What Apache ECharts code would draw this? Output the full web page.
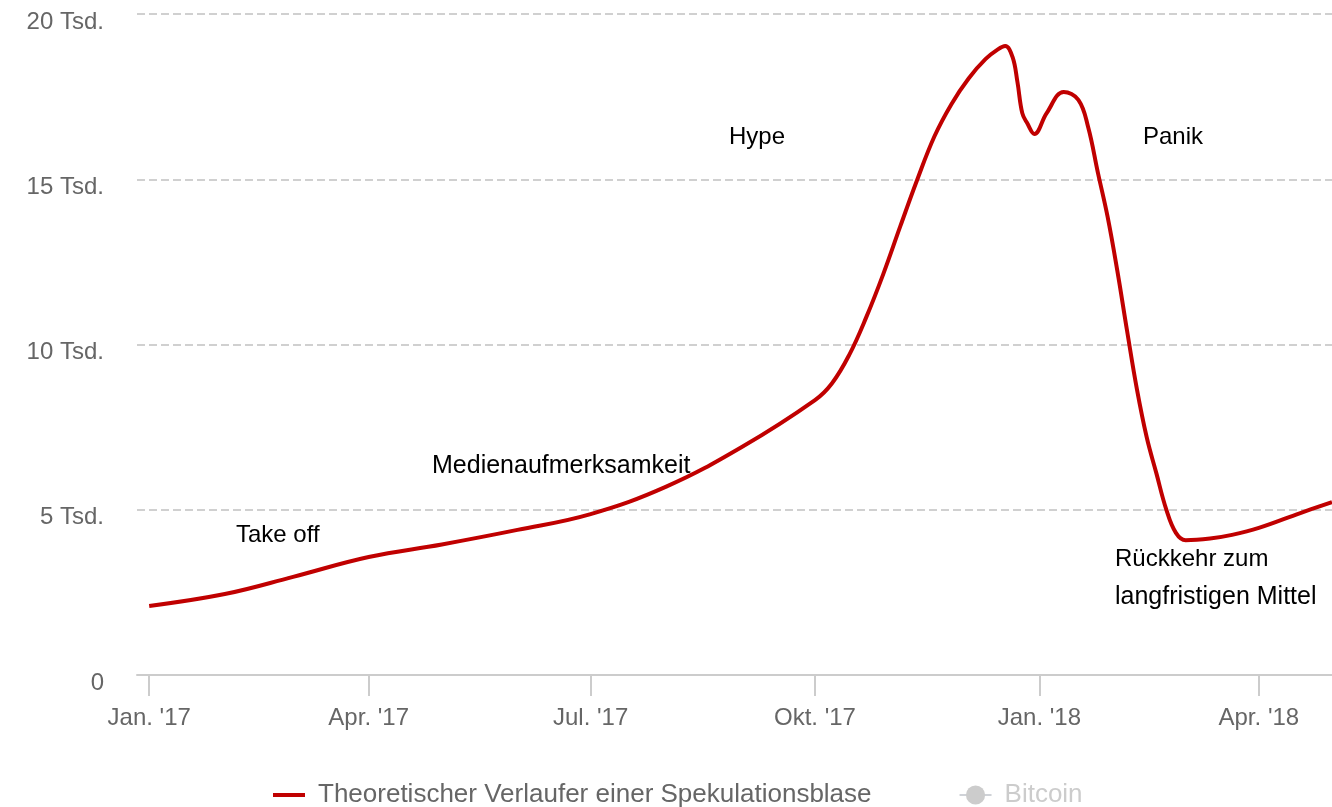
<!DOCTYPE html>
<html>
<head>
<meta charset="utf-8">
<script src="https://cdn.jsdelivr.net/npm/echarts@6/dist/echarts.min.js"></script>
<style>
  html, body { margin: 0; padding: 0; background: #fff; }
  #chart { width: 1332px; height: 807px; }
</style>
</head>
<body>
<div id="chart"></div>
<script>
// theoretischer Verlauf einer Spekulationsblase
const dates = [
  '2017-01-01', '2017-02-01', '2017-03-01', '2017-04-01', '2017-05-01',
  '2017-06-01', '2017-07-01', '2017-08-01', '2017-09-01', '2017-10-01',
  '2017-10-08', '2017-10-15', '2017-10-22', '2017-10-29', '2017-11-05',
  '2017-11-12', '2017-11-19', '2017-11-26', '2017-12-03', '2017-12-10',
  '2017-12-15', '2017-12-18', '2017-12-21', '2017-12-23', '2017-12-25',
  '2017-12-27', '2017-12-30', '2018-01-04', '2018-01-11', '2018-01-17',
  '2018-01-21', '2018-01-25', '2018-01-29', '2018-02-02', '2018-02-06',
  '2018-02-10', '2018-02-14', '2018-02-18', '2018-02-22', '2018-02-26',
  '2018-03-02', '2018-03-12', '2018-03-21', '2018-04-01', '2018-04-18',
  '2018-05-01'
]
const values = [
  2090, 2450, 2970, 3570, 3950,
  4390, 4870, 5700, 6900, 8320,
  8830, 9680, 10820, 12130, 13580,
  15000, 16300, 17280, 18050, 18640,
  18930, 19030, 18700, 17950, 17000,
  16700, 16370, 17000, 17640, 17400,
  16580, 15200, 13860, 12220, 10400,
  8650, 7200, 6100, 5020, 4300,
  4080, 4130, 4240, 4450, 4900,
  5230
]
const tickDates = ['2017-01-01', '2017-04-01', '2017-07-01', '2017-10-01', '2018-01-01', '2018-04-01']
const tickLabels = ["Jan. '17", "Apr. '17", "Jul. '17", "Okt. '17", "Jan. '18", "Apr. '18"]

const font = '"Liberation Sans", Arial, sans-serif'
const toTime = (d) => +new Date(d + 'T00:00:00Z')
const tickTimes = tickDates.map(toTime)

const chart = echarts.init(document.getElementById('chart'))
chart.setOption({
    animation: false,
    textStyle: { fontFamily: font },
    grid: { left: 137, right: 0, top: 14, bottom: 132 },
    legend: {
        left: 268,
        top: 777,
        itemWidth: 32,
        itemHeight: 24,
        itemGap: 87,
        textStyle: { fontSize: 26, color: '#666', fontFamily: font, padding: [0, 0, 0, 8] },
        inactiveColor: '#ccc',
        data: [
            { name: 'Theoretischer Verlaufer einer Spekulationsblase', icon: 'path://M0,0L32,0L32,4L0,4Z' },
            'Bitcoin',
        ],
        selected: { Bitcoin: false },
    },
    xAxis: {
        type: 'value',
        min: toTime('2016-12-27'),
        max: toTime('2018-05-01'),
        axisLine: { lineStyle: { color: '#ccc', width: 2 } },
        axisTick: { show: true, length: 21, lineStyle: { color: '#ccc', width: 2 }, customValues: tickTimes },
        axisLabel: {
            customValues: tickTimes,
            formatter: (v) => tickLabels[tickTimes.indexOf(v)] || '',
            fontSize: 24,
            color: '#666',
            margin: 31,
        },
        splitLine: { show: false },
    },
    yAxis: {
        type: 'value',
        min: 0,
        max: 20000,
        interval: 5000,
        axisLine: { show: false },
        axisTick: { show: false },
        axisLabel: {
            formatter: (v) => '{l|' + (v === 0 ? '0' : v / 1000 + ' Tsd.') + '}',
            margin: 33,
            rich: { l: { fontSize: 24, color: '#666', fontFamily: font, padding: [16, 0, 0, 0] } },
        },
        splitLine: { lineStyle: { color: '#d0d0d0', width: 2, type: [8, 4] } },
    },
    series: [
        {
            name: 'Theoretischer Verlaufer einer Spekulationsblase',
            type: 'line',
            data: dates.map((d, i) => [toTime(d), values[i]]),
            smooth: 0.4,
            symbol: 'none',
            color: '#c00000',
            lineStyle: { width: 4, color: '#c00000' },
        },
        {
            name: 'Bitcoin',
            type: 'line',
            data: [],
            symbol: 'circle',
            color: '#999',
        },
    ],
    graphic: [
        { type: 'text', left: 729, top: 125, style: { text: 'Hype', fontSize: 24, fontFamily: font, fill: '#000' } },
        { type: 'text', left: 1143, top: 125, style: { text: 'Panik', fontSize: 24, fontFamily: font, fill: '#000' } },
        { type: 'text', left: 432, top: 454, style: { text: 'Medienaufmerksamkeit', fontSize: 25, fontFamily: font, fill: '#000' } },
        { type: 'text', left: 236, top: 523, style: { text: 'Take off', fontSize: 24, fontFamily: font, fill: '#000' } },
        { type: 'text', left: 1115, top: 547, style: { text: 'Rückkehr zum', fontSize: 24, fontFamily: font, fill: '#000' } },
        { type: 'text', left: 1115, top: 585, style: { text: 'langfristigen Mittel', fontSize: 25, fontFamily: font, fill: '#000' } },
    ],
})
</script>
</body>
</html>
